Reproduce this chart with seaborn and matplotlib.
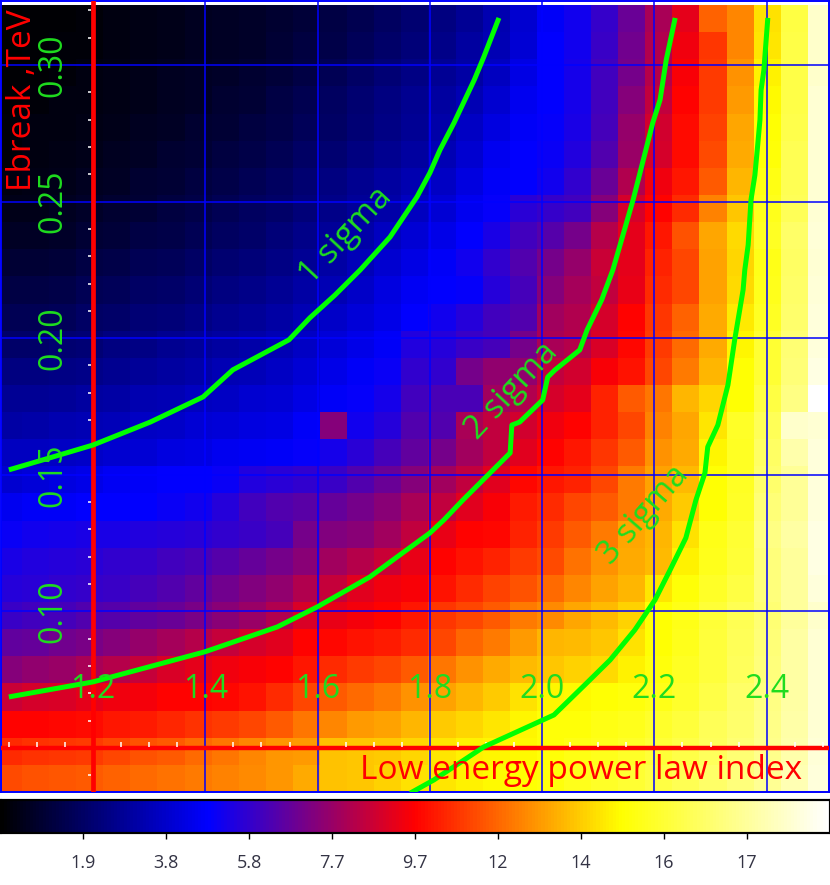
import numpy as np
import seaborn as sns
import matplotlib
matplotlib.use("Agg")
import matplotlib.pyplot as plt
from matplotlib.colors import LinearSegmentedColormap

sns.set_theme(style="white")
plt.rcParams['font.family'] = ['Open Sans', 'DejaVu Sans']

# map values, top row (Ebreak = 0.32) to bottom row (Ebreak = 0.04)
map_values = [
    [0.0,0.1,0.1,0.2,0.3,0.4,0.5,0.6,0.7,0.8,0.9,1.1,1.3,1.5,1.8,2.1,2.4,2.8,3.3,3.9,4.7,5.1,5.8,6.8,8.0,9.1,11.4,12.1,13.8,15.6,18.2],
    [0.0,0.1,0.2,0.2,0.3,0.4,0.5,0.6,0.7,0.8,1.0,1.2,1.4,1.7,2.0,2.3,2.6,3.0,3.4,4.0,4.8,5.1,5.9,6.9,8.1,9.3,10.6,12.1,13.9,15.7,18.2],
    [0.1,0.1,0.2,0.3,0.4,0.5,0.6,0.7,0.8,0.9,1.1,1.3,1.6,1.9,2.2,2.5,2.8,3.1,3.6,4.3,4.8,5.2,6.0,7.0,8.2,9.5,10.7,12.3,14.1,15.7,18.2],
    [0.1,0.2,0.3,0.3,0.4,0.5,0.6,0.7,0.9,1.0,1.3,1.5,1.8,2.1,2.4,2.7,3.0,3.4,3.9,4.5,4.8,5.2,6.0,7.3,8.4,9.6,10.7,12.5,14.3,15.7,18.3],
    [0.2,0.3,0.3,0.4,0.5,0.6,0.7,0.9,1.0,1.2,1.4,1.7,1.9,2.2,2.5,2.8,3.2,3.7,4.2,4.7,4.9,5.3,6.1,7.6,8.7,9.8,10.8,12.7,14.4,15.8,18.3],
    [0.2,0.3,0.4,0.5,0.6,0.7,0.9,1.0,1.2,1.4,1.6,1.9,2.1,2.4,2.7,3.0,3.4,3.9,4.5,4.8,5.0,5.4,6.3,7.7,8.8,9.8,11.0,12.8,14.5,15.9,18.3],
    [0.3,0.4,0.5,0.6,0.7,0.9,1.0,1.2,1.4,1.6,1.8,2.1,2.4,2.7,3.0,3.3,3.7,4.2,4.7,4.8,5.1,5.7,6.8,8.1,9.3,10.0,11.3,13.0,14.7,15.9,18.3],
    [0.5,0.5,0.6,0.8,0.9,1.0,1.2,1.4,1.6,1.8,2.0,2.3,2.6,2.9,3.2,3.6,4.0,4.5,4.9,5.6,5.8,6.0,7.3,8.8,9.6,10.4,12.0,13.3,14.9,16.0,18.3],
    [0.7,0.7,0.8,1.0,1.1,1.3,1.4,1.6,1.8,2.0,2.3,2.6,2.9,3.2,3.6,4.0,4.4,4.8,5.3,6.0,6.4,7.0,8.2,9.1,10.0,11.1,12.7,13.7,15.0,16.3,18.4],
    [1.0,1.0,1.1,1.3,1.4,1.6,1.7,1.9,2.1,2.3,2.5,2.8,3.1,3.5,3.9,4.3,4.7,5.1,5.7,6.3,7.0,7.6,8.6,9.1,10.2,10.9,12.6,13.6,14.8,16.2,18.3],
    [1.3,1.3,1.4,1.6,1.7,1.9,2.0,2.2,2.4,2.6,2.8,3.1,3.4,3.8,4.2,4.6,4.8,4.9,5.5,6.1,7.3,7.9,8.4,9.2,10.4,10.9,12.6,13.7,14.9,16.3,18.4],
    [1.6,1.6,1.7,1.9,2.0,2.2,2.3,2.5,2.7,2.9,3.1,3.4,3.8,4.1,4.4,4.8,5.1,5.5,6.0,6.3,7.8,8.1,8.8,9.6,10.6,11.4,12.8,14.0,15.0,16.4,18.5],
    [2.0,2.0,2.1,2.2,2.4,2.5,2.7,2.9,3.0,3.2,3.4,3.7,4.1,4.4,4.7,5.4,5.5,5.9,6.1,7.0,8.0,8.2,8.9,9.7,10.7,11.6,12.8,14.2,15.3,16.5,18.5],
    [2.4,2.4,2.5,2.6,2.7,2.9,3.0,3.2,3.4,3.5,3.7,4.0,4.4,4.7,5.0,5.7,5.7,7.0,7.5,7.5,8.4,8.7,9.5,9.9,10.9,11.9,13.0,14.4,15.3,16.6,18.6],
    [2.8,2.8,2.9,3.0,3.1,3.3,3.4,3.6,3.7,3.9,4.0,4.3,4.7,4.9,5.2,6.0,6.2,6.2,7.8,8.1,8.8,9.1,10.2,11.3,11.8,13.0,13.6,14.4,15.6,16.8,19.2],
    [3.1,3.2,3.3,3.4,3.5,3.7,3.8,4.0,4.1,4.2,4.3,4.7,7.3,5.1,5.5,6.3,6.3,8.0,8.4,8.7,9.3,9.6,10.2,10.9,12.0,12.7,13.9,15.1,16.0,18.2,18.3],
    [3.6,3.6,3.7,3.8,3.9,4.0,4.2,4.3,4.5,4.6,4.7,4.9,5.2,5.6,6.1,6.6,7.0,7.8,8.4,9.0,9.6,10.0,10.6,11.3,12.3,12.8,14.2,15.0,16.2,17.6,18.5],
    [3.9,4.1,4.2,4.4,4.6,4.7,4.8,4.8,5.0,5.4,5.6,5.7,5.9,6.3,6.8,7.3,7.8,8.4,9.0,9.7,10.0,10.2,10.9,11.9,12.6,13.1,14.4,15.0,16.4,17.2,18.5],
    [4.5,4.7,4.7,4.8,4.8,4.8,5.0,5.1,5.5,6.0,6.3,6.5,6.7,7.0,7.4,8.0,8.4,9.0,9.5,10.1,10.4,10.9,11.3,11.9,12.8,13.4,14.4,15.1,16.6,17.2,18.5],
    [5.0,5.1,5.2,5.3,5.3,5.4,5.5,5.6,5.7,5.9,6.1,7.0,7.2,7.4,7.8,8.4,9.2,9.6,9.7,10.2,10.7,11.3,11.9,12.7,13.0,13.8,14.8,15.3,16.8,17.4,18.6],
    [5.3,5.4,5.5,5.6,5.7,5.8,6.0,6.2,6.4,6.7,7.0,7.4,7.8,8.2,8.6,9.2,9.6,9.9,10.2,10.7,11.0,11.7,12.3,12.8,13.1,14.1,14.9,15.4,16.7,17.3,18.6],
    [5.5,5.6,5.7,5.8,5.9,6.1,6.3,6.6,6.9,7.2,7.5,8.1,8.5,9.0,9.3,9.5,9.9,10.4,10.8,11.1,11.6,12.1,12.6,13.0,13.9,14.5,15.1,15.6,16.7,17.3,18.5],
    [5.9,6.0,6.1,6.3,6.4,6.6,6.8,7.1,7.4,7.7,8.1,8.9,9.2,9.4,9.6,10.0,10.6,10.9,11.3,11.9,12.2,12.7,13.1,13.5,14.4,14.8,15.4,15.9,16.5,17.3,18.2],
    [6.6,6.7,6.9,7.1,7.3,7.6,7.9,8.2,8.5,8.8,9.0,9.6,9.7,9.9,10.1,10.4,10.9,11.5,11.9,12.5,13.0,13.1,13.3,13.8,14.4,14.9,15.5,16.0,16.6,17.4,18.3],
    [7.3,7.5,7.7,8.0,8.2,8.5,8.9,9.1,9.3,9.5,9.6,10.0,10.4,10.7,10.9,11.3,11.8,12.3,12.8,13.1,13.3,13.5,13.7,14.1,14.6,15.0,15.5,16.1,16.7,17.4,18.3],
    [8.6,8.8,8.9,9.1,9.3,9.4,9.6,9.6,9.7,9.9,10.4,10.9,11.3,11.6,11.9,12.3,12.6,13.0,13.4,13.8,14.2,14.3,14.4,14.6,14.8,15.2,15.7,16.3,16.8,17.4,18.3],
    [9.6,9.6,9.7,9.8,10.0,10.1,10.3,10.5,10.7,10.9,11.3,11.8,12.1,12.5,12.6,13.0,13.4,13.6,13.9,14.2,14.5,14.5,14.7,14.9,15.2,15.5,16.0,16.4,16.9,17.5,18.3],
    [10.4,10.5,10.6,10.7,10.9,11.1,11.3,11.6,11.8,12.1,12.4,12.5,13.2,13.3,13.4,13.6,13.9,14.1,14.2,14.3,14.5,14.7,14.9,15.1,15.4,15.7,16.1,16.5,17.0,17.6,18.4],
    [11.0,11.1,11.2,11.3,11.4,11.6,11.7,11.9,12.0,12.2,12.4,12.8,13.2,13.3,13.5,13.8,13.9,14.1,14.3,14.4,14.6,14.9,15.1,15.3,15.6,15.9,16.3,16.7,17.1,17.7,18.5],
]

# contours as (low energy index, Ebreak)
sigma1_x = [1.050,1.123,1.200,1.302,1.396,1.449,1.549,1.586,1.631,1.676,1.729,1.777,1.800,1.818,1.843,1.879,1.896,1.923]
sigma1_y = [.1518,.1562,.1609,.1693,.1785,.1884,.1994,.2074,.2158,.2250,.2370,.2517,.2605,.2689,.2788,.2945,.3029,.3172]
sigma2_x = [1.050,1.200,1.399,1.528,1.599,1.693,1.754,1.800,1.825,1.859,1.943,1.946,1.960,2.001,2.010,2.023,2.067,2.080,2.106,2.126,2.162,2.197,2.210,2.221,2.237]
sigma2_y = [.0687,.0742,.0852,.0943,.1016,.1126,.1218,.1287,.1335,.1408,.1580,.1682,.1693,.1774,.1858,.1884,.1957,.2030,.2140,.2250,.2506,.2788,.2872,.3018,.3172]
sigma3_x = [2.402,2.395,2.390,2.388,2.384,2.379,2.372,2.367,2.361,2.358,2.343,2.331,2.313,2.295,2.290,2.274,2.256,2.228,2.201,2.165,2.121,2.076,2.021,1.896,1.807,1.765]
sigma3_y = [.3172,.2982,.2908,.2799,.2707,.2597,.2506,.2341,.2250,.2177,.1994,.1829,.1682,.1602,.1507,.1408,.1269,.1152,.1042,.0932,.0822,.0731,.0621,.0504,.0383,.0335]

index_ticks = [1.2, 1.4, 1.6, 1.8, 2.0, 2.2, 2.4]
index_labels = ["1.2", "1.4", "1.6", "1.8", "2.0", "2.2", "2.4"]
index_minor = [1.05, 1.1, 1.15, 1.25, 1.3, 1.35, 1.45, 1.5, 1.55, 1.65, 1.7, 1.75, 1.85, 1.9, 1.95,
               2.05, 2.1, 2.15, 2.25, 2.3, 2.35, 2.45, 2.5]
ebreak_ticks = [0.05, 0.10, 0.15, 0.20, 0.25, 0.30]
ebreak_labels = ["0.10", "0.15", "0.20", "0.25", "0.30"]
ebreak_minor = [0.04, 0.06, 0.07, 0.08, 0.09, 0.11, 0.12, 0.13, 0.14, 0.16, 0.17, 0.18, 0.19,
                0.21, 0.22, 0.23, 0.24, 0.26, 0.27, 0.28, 0.29, 0.31, 0.32]
cbar_ticks = [1.92, 3.84, 5.76, 7.68, 9.6, 11.52, 13.44, 15.36, 17.28]
cbar_labels = ["1.9", "3.8", "5.8", "7.7", "9.7", "12", "14", "16", "17"]

W, H = 830, 885
GREEN = "#00ff00"
TEXT_GREEN = "#1fdc1f"
RED = "#ff0000"
BLUE = "#0000ff"

heat = LinearSegmentedColormap.from_list(
    "heat", [(0, "#000000"), (0.25, "#0000ff"), (0.5, "#ff0000"), (0.75, "#ffff00"), (1, "#ffffff")])

fig = plt.figure(figsize=(W / 100, H / 100), dpi=100, facecolor="white")
rect = [1 / W, (H - 792) / H, 828 / W, 791 / H]
ax = fig.add_axes(rect)
cax = fig.add_axes([0.5 / W, (H - 833) / H, 829 / W, 33 / H])

sns.heatmap(np.array(map_values), ax=ax, cmap=heat, vmin=0, vmax=19.2, xticklabels=False, yticklabels=False,
            cbar_ax=cax, cbar_kws={"orientation": "horizontal", "ticks": cbar_ticks})
ax.set_xlim(0.225, 30.78)
ax.set_ylim(29.0, -0.148)

cax.set_xticklabels(cbar_labels)
cax.tick_params(axis="x", length=4, width=1, color="black", labelsize=13, labelcolor="#333344", pad=11, bottom=True)
for s in cax.spines.values():
    s.set_visible(True)
    s.set_color("black")
    s.set_linewidth(1.5)

# physical axes on top of the map
over = fig.add_axes(rect, facecolor="none")
over.set_xlim(1.036, 2.511)
over.set_ylim(0.0339, 0.3234)
over.set_xticks(index_ticks)
over.set_yticks(ebreak_ticks)
over.tick_params(length=0, labelbottom=False, labelleft=False)
over.grid(True, color=BLUE, linewidth=1.1)
over.set_axisbelow(True)
for s in over.spines.values():
    s.set_visible(True)
    s.set_color(BLUE)
    s.set_linewidth(1.4)

over.axvline(1.2, color=RED, linewidth=3.4, zorder=3)
over.axhline(0.05, color=RED, linewidth=3.2, zorder=3)
over.vlines(index_minor, 0.0505, 0.0522, color="white", linewidth=1.1, zorder=3)
over.hlines(ebreak_minor, 1.191, 1.197, color="white", linewidth=1.1, zorder=3)

for xs, ys in [(sigma1_x, sigma1_y), (sigma2_x, sigma2_y), (sigma3_x, sigma3_y)]:
    over.plot(xs, ys, color=GREEN, linewidth=3.6, solid_capstyle="butt", zorder=4)

for v, lab in zip(index_ticks, index_labels):
    over.text(v, 0.0713, lab, color=TEXT_GREEN, fontsize=23, ha="center", va="center", zorder=5)
for v, lab in zip(ebreak_ticks[1:], ebreak_labels):
    over.text(1.129, v, lab, color=TEXT_GREEN, fontsize=23, rotation=90, ha="center", va="center", zorder=5)

over.text(1.0735, 0.287, "Ebreak ,TeV", color=RED, fontsize=24, rotation=90, ha="center", va="center", zorder=5)
over.text(2.069, 0.0416, "Low energy power law index", color=RED, fontsize=24, ha="center", va="center", zorder=5)

over.text(1.650, 0.2375, "1 sigma", color=TEXT_GREEN, fontsize=24, rotation=47, ha="center", va="center", zorder=5)
over.text(1.946, 0.1807, "2 sigma", color=TEXT_GREEN, fontsize=24, rotation=47, ha="center", va="center", zorder=5)
over.text(2.181, 0.1353, "3 sigma", color=TEXT_GREEN, fontsize=24, rotation=49, ha="center", va="center", zorder=5)

plt.savefig("out.png", dpi=100, facecolor="white")
